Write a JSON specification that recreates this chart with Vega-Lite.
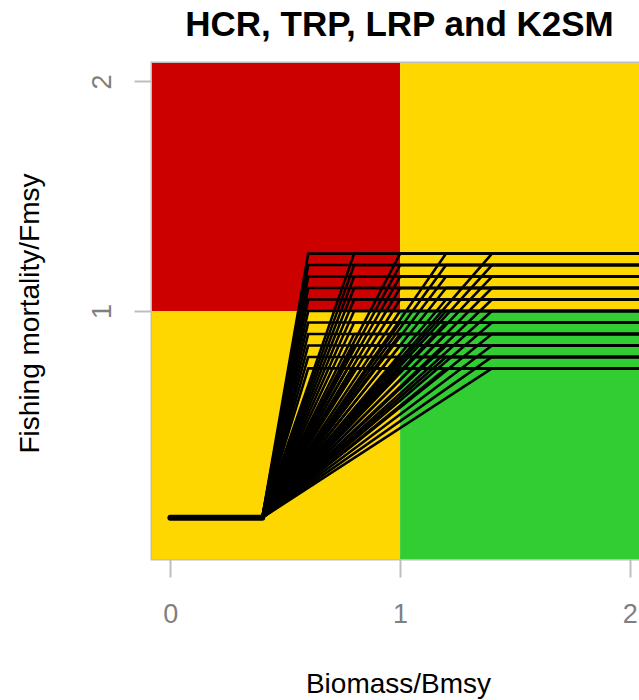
{
  "$schema": "https://vega.github.io/schema/vega-lite/v6.json",
  "width": 487,
  "height": 496,
  "autosize": {"type": "none"},
  "padding": {"left": 152, "top": 63, "right": 0, "bottom": 141},
  "background": "white",
  "title": {"text": "HCR, TRP, LRP and K2SM", "font": "Liberation Sans", "fontSize": 35, "fontWeight": "bold", "color": "black", "anchor": "middle", "baseline": "alphabetic", "offset": -8, "dx": 4},
  "config": {
    "view": {"stroke": "#bebebe", "strokeWidth": 3},
    "axis": {"grid": false, "domain": false, "tickColor": "#bebebe", "tickWidth": 2, "tickSize": 18, "labelColor": "#7f7f7f", "labelFont": "Liberation Sans", "labelFontSize": 27, "labelFlush": false, "labelOverlap": false, "titleFont": "Liberation Sans", "titleFontSize": 28, "titleColor": "black", "titleFontWeight": "normal"}
  },
  "datasets": {
    "zones": [
      {"zone": "red", "x": -0.08, "xe": 1, "y": 1, "ye": 2.08},
      {"zone": "yellow", "x": -0.08, "xe": 1, "y": -0.08, "ye": 1},
      {"zone": "yellow", "x": 1, "xe": 2.04, "y": 1, "ye": 2.08},
      {"zone": "green", "x": 1, "xe": 2.04, "y": -0.08, "ye": 1}
    ],
    "floor": [
      {"x": 0, "y": 0.1},
      {"x": 0.4, "y": 0.1}
    ],
    "hcr": [
      {"b":0.6,"f":0.75,"x":0.4,"y":0.1},{"b":0.6,"f":0.75,"x":0.6,"y":0.75},{"b":0.6,"f":0.75,"x":2.04,"y":0.75},
      {"b":0.6,"f":0.8,"x":0.4,"y":0.1},{"b":0.6,"f":0.8,"x":0.6,"y":0.8},{"b":0.6,"f":0.8,"x":2.04,"y":0.8},
      {"b":0.6,"f":0.85,"x":0.4,"y":0.1},{"b":0.6,"f":0.85,"x":0.6,"y":0.85},{"b":0.6,"f":0.85,"x":2.04,"y":0.85},
      {"b":0.6,"f":0.9,"x":0.4,"y":0.1},{"b":0.6,"f":0.9,"x":0.6,"y":0.9},{"b":0.6,"f":0.9,"x":2.04,"y":0.9},
      {"b":0.6,"f":0.95,"x":0.4,"y":0.1},{"b":0.6,"f":0.95,"x":0.6,"y":0.95},{"b":0.6,"f":0.95,"x":2.04,"y":0.95},
      {"b":0.6,"f":1.0,"x":0.4,"y":0.1},{"b":0.6,"f":1.0,"x":0.6,"y":1.0},{"b":0.6,"f":1.0,"x":2.04,"y":1.0},
      {"b":0.6,"f":1.05,"x":0.4,"y":0.1},{"b":0.6,"f":1.05,"x":0.6,"y":1.05},{"b":0.6,"f":1.05,"x":2.04,"y":1.05},
      {"b":0.6,"f":1.1,"x":0.4,"y":0.1},{"b":0.6,"f":1.1,"x":0.6,"y":1.1},{"b":0.6,"f":1.1,"x":2.04,"y":1.1},
      {"b":0.6,"f":1.15,"x":0.4,"y":0.1},{"b":0.6,"f":1.15,"x":0.6,"y":1.15},{"b":0.6,"f":1.15,"x":2.04,"y":1.15},
      {"b":0.6,"f":1.2,"x":0.4,"y":0.1},{"b":0.6,"f":1.2,"x":0.6,"y":1.2},{"b":0.6,"f":1.2,"x":2.04,"y":1.2},
      {"b":0.6,"f":1.25,"x":0.4,"y":0.1},{"b":0.6,"f":1.25,"x":0.6,"y":1.25},{"b":0.6,"f":1.25,"x":2.04,"y":1.25},
      {"b":0.8,"f":0.75,"x":0.4,"y":0.1},{"b":0.8,"f":0.75,"x":0.8,"y":0.75},{"b":0.8,"f":0.75,"x":2.04,"y":0.75},
      {"b":0.8,"f":0.8,"x":0.4,"y":0.1},{"b":0.8,"f":0.8,"x":0.8,"y":0.8},{"b":0.8,"f":0.8,"x":2.04,"y":0.8},
      {"b":0.8,"f":0.85,"x":0.4,"y":0.1},{"b":0.8,"f":0.85,"x":0.8,"y":0.85},{"b":0.8,"f":0.85,"x":2.04,"y":0.85},
      {"b":0.8,"f":0.9,"x":0.4,"y":0.1},{"b":0.8,"f":0.9,"x":0.8,"y":0.9},{"b":0.8,"f":0.9,"x":2.04,"y":0.9},
      {"b":0.8,"f":0.95,"x":0.4,"y":0.1},{"b":0.8,"f":0.95,"x":0.8,"y":0.95},{"b":0.8,"f":0.95,"x":2.04,"y":0.95},
      {"b":0.8,"f":1.0,"x":0.4,"y":0.1},{"b":0.8,"f":1.0,"x":0.8,"y":1.0},{"b":0.8,"f":1.0,"x":2.04,"y":1.0},
      {"b":0.8,"f":1.05,"x":0.4,"y":0.1},{"b":0.8,"f":1.05,"x":0.8,"y":1.05},{"b":0.8,"f":1.05,"x":2.04,"y":1.05},
      {"b":0.8,"f":1.1,"x":0.4,"y":0.1},{"b":0.8,"f":1.1,"x":0.8,"y":1.1},{"b":0.8,"f":1.1,"x":2.04,"y":1.1},
      {"b":0.8,"f":1.15,"x":0.4,"y":0.1},{"b":0.8,"f":1.15,"x":0.8,"y":1.15},{"b":0.8,"f":1.15,"x":2.04,"y":1.15},
      {"b":0.8,"f":1.2,"x":0.4,"y":0.1},{"b":0.8,"f":1.2,"x":0.8,"y":1.2},{"b":0.8,"f":1.2,"x":2.04,"y":1.2},
      {"b":0.8,"f":1.25,"x":0.4,"y":0.1},{"b":0.8,"f":1.25,"x":0.8,"y":1.25},{"b":0.8,"f":1.25,"x":2.04,"y":1.25},
      {"b":1.0,"f":0.75,"x":0.4,"y":0.1},{"b":1.0,"f":0.75,"x":1.0,"y":0.75},{"b":1.0,"f":0.75,"x":2.04,"y":0.75},
      {"b":1.0,"f":0.8,"x":0.4,"y":0.1},{"b":1.0,"f":0.8,"x":1.0,"y":0.8},{"b":1.0,"f":0.8,"x":2.04,"y":0.8},
      {"b":1.0,"f":0.85,"x":0.4,"y":0.1},{"b":1.0,"f":0.85,"x":1.0,"y":0.85},{"b":1.0,"f":0.85,"x":2.04,"y":0.85},
      {"b":1.0,"f":0.9,"x":0.4,"y":0.1},{"b":1.0,"f":0.9,"x":1.0,"y":0.9},{"b":1.0,"f":0.9,"x":2.04,"y":0.9},
      {"b":1.0,"f":0.95,"x":0.4,"y":0.1},{"b":1.0,"f":0.95,"x":1.0,"y":0.95},{"b":1.0,"f":0.95,"x":2.04,"y":0.95},
      {"b":1.0,"f":1.0,"x":0.4,"y":0.1},{"b":1.0,"f":1.0,"x":1.0,"y":1.0},{"b":1.0,"f":1.0,"x":2.04,"y":1.0},
      {"b":1.0,"f":1.05,"x":0.4,"y":0.1},{"b":1.0,"f":1.05,"x":1.0,"y":1.05},{"b":1.0,"f":1.05,"x":2.04,"y":1.05},
      {"b":1.0,"f":1.1,"x":0.4,"y":0.1},{"b":1.0,"f":1.1,"x":1.0,"y":1.1},{"b":1.0,"f":1.1,"x":2.04,"y":1.1},
      {"b":1.0,"f":1.15,"x":0.4,"y":0.1},{"b":1.0,"f":1.15,"x":1.0,"y":1.15},{"b":1.0,"f":1.15,"x":2.04,"y":1.15},
      {"b":1.0,"f":1.2,"x":0.4,"y":0.1},{"b":1.0,"f":1.2,"x":1.0,"y":1.2},{"b":1.0,"f":1.2,"x":2.04,"y":1.2},
      {"b":1.0,"f":1.25,"x":0.4,"y":0.1},{"b":1.0,"f":1.25,"x":1.0,"y":1.25},{"b":1.0,"f":1.25,"x":2.04,"y":1.25},
      {"b":1.2,"f":0.75,"x":0.4,"y":0.1},{"b":1.2,"f":0.75,"x":1.2,"y":0.75},{"b":1.2,"f":0.75,"x":2.04,"y":0.75},
      {"b":1.2,"f":0.8,"x":0.4,"y":0.1},{"b":1.2,"f":0.8,"x":1.2,"y":0.8},{"b":1.2,"f":0.8,"x":2.04,"y":0.8},
      {"b":1.2,"f":0.85,"x":0.4,"y":0.1},{"b":1.2,"f":0.85,"x":1.2,"y":0.85},{"b":1.2,"f":0.85,"x":2.04,"y":0.85},
      {"b":1.2,"f":0.9,"x":0.4,"y":0.1},{"b":1.2,"f":0.9,"x":1.2,"y":0.9},{"b":1.2,"f":0.9,"x":2.04,"y":0.9},
      {"b":1.2,"f":0.95,"x":0.4,"y":0.1},{"b":1.2,"f":0.95,"x":1.2,"y":0.95},{"b":1.2,"f":0.95,"x":2.04,"y":0.95},
      {"b":1.2,"f":1.0,"x":0.4,"y":0.1},{"b":1.2,"f":1.0,"x":1.2,"y":1.0},{"b":1.2,"f":1.0,"x":2.04,"y":1.0},
      {"b":1.2,"f":1.05,"x":0.4,"y":0.1},{"b":1.2,"f":1.05,"x":1.2,"y":1.05},{"b":1.2,"f":1.05,"x":2.04,"y":1.05},
      {"b":1.2,"f":1.1,"x":0.4,"y":0.1},{"b":1.2,"f":1.1,"x":1.2,"y":1.1},{"b":1.2,"f":1.1,"x":2.04,"y":1.1},
      {"b":1.2,"f":1.15,"x":0.4,"y":0.1},{"b":1.2,"f":1.15,"x":1.2,"y":1.15},{"b":1.2,"f":1.15,"x":2.04,"y":1.15},
      {"b":1.2,"f":1.2,"x":0.4,"y":0.1},{"b":1.2,"f":1.2,"x":1.2,"y":1.2},{"b":1.2,"f":1.2,"x":2.04,"y":1.2},
      {"b":1.2,"f":1.25,"x":0.4,"y":0.1},{"b":1.2,"f":1.25,"x":1.2,"y":1.25},{"b":1.2,"f":1.25,"x":2.04,"y":1.25},
      {"b":1.4,"f":0.75,"x":0.4,"y":0.1},{"b":1.4,"f":0.75,"x":1.4,"y":0.75},{"b":1.4,"f":0.75,"x":2.04,"y":0.75},
      {"b":1.4,"f":0.8,"x":0.4,"y":0.1},{"b":1.4,"f":0.8,"x":1.4,"y":0.8},{"b":1.4,"f":0.8,"x":2.04,"y":0.8},
      {"b":1.4,"f":0.85,"x":0.4,"y":0.1},{"b":1.4,"f":0.85,"x":1.4,"y":0.85},{"b":1.4,"f":0.85,"x":2.04,"y":0.85},
      {"b":1.4,"f":0.9,"x":0.4,"y":0.1},{"b":1.4,"f":0.9,"x":1.4,"y":0.9},{"b":1.4,"f":0.9,"x":2.04,"y":0.9},
      {"b":1.4,"f":0.95,"x":0.4,"y":0.1},{"b":1.4,"f":0.95,"x":1.4,"y":0.95},{"b":1.4,"f":0.95,"x":2.04,"y":0.95},
      {"b":1.4,"f":1.0,"x":0.4,"y":0.1},{"b":1.4,"f":1.0,"x":1.4,"y":1.0},{"b":1.4,"f":1.0,"x":2.04,"y":1.0},
      {"b":1.4,"f":1.05,"x":0.4,"y":0.1},{"b":1.4,"f":1.05,"x":1.4,"y":1.05},{"b":1.4,"f":1.05,"x":2.04,"y":1.05},
      {"b":1.4,"f":1.1,"x":0.4,"y":0.1},{"b":1.4,"f":1.1,"x":1.4,"y":1.1},{"b":1.4,"f":1.1,"x":2.04,"y":1.1},
      {"b":1.4,"f":1.15,"x":0.4,"y":0.1},{"b":1.4,"f":1.15,"x":1.4,"y":1.15},{"b":1.4,"f":1.15,"x":2.04,"y":1.15},
      {"b":1.4,"f":1.2,"x":0.4,"y":0.1},{"b":1.4,"f":1.2,"x":1.4,"y":1.2},{"b":1.4,"f":1.2,"x":2.04,"y":1.2},
      {"b":1.4,"f":1.25,"x":0.4,"y":0.1},{"b":1.4,"f":1.25,"x":1.4,"y":1.25},{"b":1.4,"f":1.25,"x":2.04,"y":1.25}
    ]
  },
  "encoding": {
    "x": {"field": "x", "type": "quantitative", "scale": {"domain": [-0.08, 2.04], "nice": false, "zero": false},
          "axis": {"title": "Biomass/Bmsy", "values": [0, 1, 2], "tickCount": 20, "labelExpr": "toString(datum.value)", "labelOverlap": false, "labelBaseline": "alphabetic", "labelPadding": 45, "titleX": 246, "titleY": 133, "titleBaseline": "alphabetic", "titleAlign": "center"}},
    "y": {"field": "y", "type": "quantitative", "scale": {"domain": [-0.08, 2.08], "nice": false, "zero": false},
          "axis": {"title": "Fishing mortality/Fmsy", "values": [1, 2], "tickCount": 20, "labelExpr": "toString(datum.value)", "labelOverlap": false, "labelAngle": 270, "labelAlign": "center", "labelBaseline": "alphabetic", "labelPadding": 24, "titleAngle": 270, "titleX": -114, "titleY": 250, "titleBaseline": "alphabetic", "titleAlign": "center"}}
  },
  "layer": [
    {
      "data": {"name": "zones"},
      "mark": {"type": "rect", "clip": true},
      "encoding": {
        "x2": {"field": "xe"},
        "y2": {"field": "ye"},
        "color": {"field": "zone", "type": "nominal", "scale": {"domain": ["red", "yellow", "green"], "range": ["#CD0000", "#FFD700", "#32CD32"]}, "legend": null}
      }
    },
    {
      "data": {"name": "hcr"},
      "mark": {"type": "line", "color": "black", "strokeWidth": 2.6, "strokeJoin": "round", "clip": true},
      "encoding": {
        "detail": [{"field": "b", "type": "nominal"}, {"field": "f", "type": "nominal"}],
        "order": {"field": "x", "type": "quantitative"}
      }
    },
    {
      "data": {"name": "floor"},
      "mark": {"type": "line", "color": "black", "strokeWidth": 6, "strokeCap": "round", "clip": true},
      "encoding": {}
    }
  ]
}
